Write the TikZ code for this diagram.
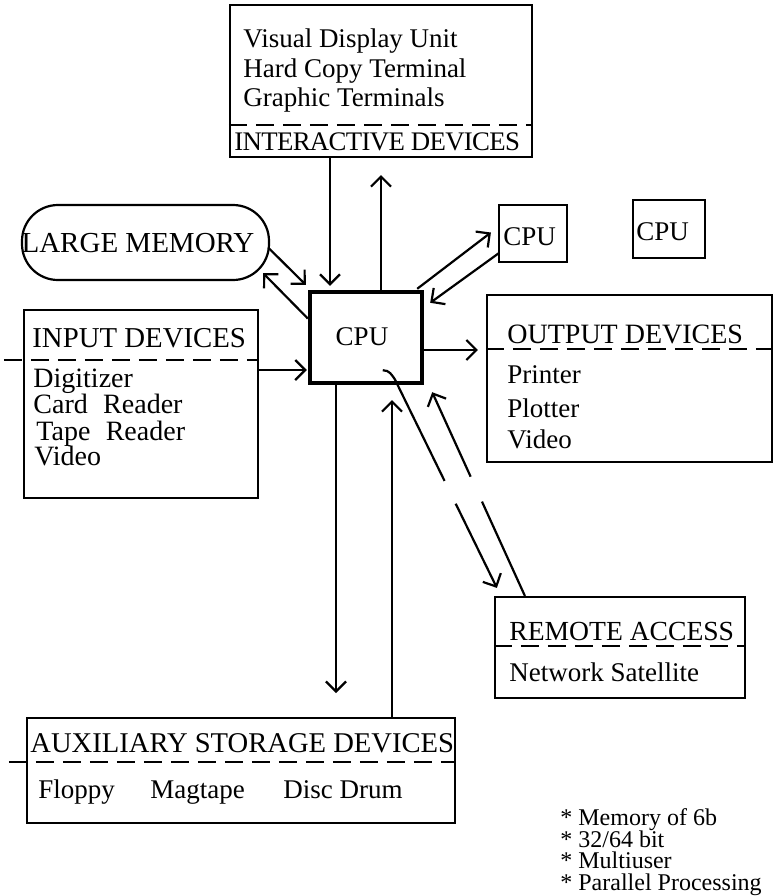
\documentclass[tikz,border=0pt]{standalone}
\usepackage{fontspec}
\setmainfont{Liberation Serif}
\usetikzlibrary{positioning,arrows.meta,calc,fit}

\tikzset{
  devbox/.style={draw,line width=1.1pt,inner sep=0pt},
  cpubox/.style={draw,line width=2.2pt,inner sep=0pt},
  membox/.style={draw,line width=1.1pt,inner sep=0pt,rounded corners=18pt},
  txt/.style={anchor=base west,inner sep=0pt,font=\fontsize{13.5}{15}\selectfont},
  hdr/.style={txt,font=\fontsize{13.8}{15}\selectfont},
  note/.style={anchor=base west,inner sep=0pt,font=\fontsize{12}{12}\selectfont},
  divider/.style={line width=1.1pt,dash pattern=on 9pt off 4.5pt},
  link/.style={line width=1.1pt,-{Straight Barb[length=5pt,width=10pt,line width=1.1pt]}},
}

\begin{document}
\begin{tikzpicture}[x=0.5pt,y=-0.5pt]
  \useasboundingbox (0,0) rectangle (775,896);
  % boxes, corners in pixels of the sheet (y runs down)
  \node[devbox,fit={(230,5) (532,157)}] (inter) {};
  \node[membox,fit={(22,205) (269,280)}] (mem) {};
  \node[devbox,fit={(24,310) (258,498)}] (input) {};
  \node[cpubox,fit={(310,292) (422,383)}] (cpu) {};
  \node[devbox,fit={(499,205) (567,262)}] (cpua) {};
  \node[devbox,fit={(633,200) (705,258)}] (cpub) {};
  \node[devbox,fit={(487,295) (772,462)}] (output) {};
  \node[devbox,fit={(495,597) (745,698)}] (remote) {};
  \node[devbox,fit={(27,718) (455,823)}] (aux) {};

  \draw[divider] ($(inter.north west)+(0,121)$) -- ($(inter.north east)+(0,121)$);
  \draw[divider] ($(input.north west)+(-19,51)$) -- ($(input.north east)+(0,51)$);
  \draw[divider] ($(output.north west)+(0,55)$) -- ($(output.north east)+(0,55)$);
  \draw[divider] ($(remote.north west)+(0,50)$) -- ($(remote.north east)+(0,50)$);
  \draw[divider] ($(aux.north west)+(-17,45)$) -- ($(aux.north east)+(0,45)$);

  \node[txt] (vdu) at (243,47) {Visual Display Unit};
  \node[txt] (hct) at (243,77) {Hard Copy Terminal};
  \node[txt] (gt) at (243,106) {Graphic Terminals};
  \node[hdr,font=\fontsize{13.4}{15}\selectfont\addfontfeatures{LetterSpace=-2.5}] (interhdr) at (234,150) {INTERACTIVE DEVICES};

  \node[hdr,anchor=base,font=\fontsize{14.5}{15}\selectfont] (memtxt) at (138,252) {LARGE MEMORY};

  \node[hdr,font=\fontsize{14.4}{15}\selectfont] (inhdr) at (32,347) {INPUT DEVICES};
  \node[txt,font=\fontsize{14}{15}\selectfont] (dig) at (33,387) {Digitizer};
  \node[txt,font=\fontsize{14}{15}\selectfont] (card) at (33,413) {Card\hspace{0.55em}Reader};
  \node[txt,font=\fontsize{14}{15}\selectfont] (tape) at (36,440) {Tape\hspace{0.55em}Reader};
  \node[txt,font=\fontsize{14}{15}\selectfont] (invid) at (34,465) {Video};

  \node[txt,anchor=base] (cputxt) at (362,345) {CPU};
  \node[txt] (cpuatxt) at (503,245) {CPU};
  \node[txt] (cpubtxt) at (636,240) {CPU};

  \node[hdr,font=\fontsize{14}{15}\selectfont] (outhdr) at (507,343) {OUTPUT DEVICES};
  \node[txt] (prn) at (507,383) {Printer};
  \node[txt] (plt) at (507,417) {Plotter};
  \node[txt] (outvid) at (507,448) {Video};

  \node[hdr] (remhdr) at (509,640) {REMOTE ACCESS};
  \node[txt] (net) at (509,681) {Network Satellite};

  \node[hdr,font=\fontsize{14.3}{15}\selectfont] (auxhdr) at (30,752) {AUXILIARY STORAGE DEVICES};
  \node[txt] (flp) at (38,798) {Floppy};
  \node[txt] (mag) at (150,798) {Magtape};
  \node[txt] (disc) at (283,798) {Disc Drum};

  \node[note] (n1) at (560,825) {* Memory of 6b};
  \node[note] (n2) at (560,847) {* 32/64 bit};
  \node[note] (n3) at (560,868) {* Multiuser};
  \node[note] (n4) at (560,890) {* Parallel Processing};

  % connectors
  \coordinate (dnx) at (330,0);
  \coordinate (upx) at (381,0);
  \coordinate (upend) at (381,175);
  \coordinate (outy) at (0,350);
  \coordinate (iny) at (0,370);
  \coordinate (auxdn) at (336,693);
  \coordinate (auxup) at (392,400);
  \draw[link,shorten >=2pt] (inter.south -| dnx) -- (cpu.north -| dnx);
  \draw[link] (cpu.north -| upx) -- (upend);
  \draw[link] ($(mem.east)+(-2,5)$) -- ($(cpu.north west)+(-2,-5)$);
  \draw[link] ($(cpu.west)+(0,-19)$) -- ($(mem.south east)+(-7,-8)$);
  \draw[link] ($(cpu.north east)+(-7,-1)$) -- ($(cpua.west)+(-7,-1)$);
  \draw[link] ($(cpua.south west)+(1,-10)$) -- ($(cpu.north east)+(6,13)$);
  \draw[link,shorten >=4pt] (cpu.east |- outy) -- (output.west |- outy);
  \draw[link,shorten >=0.5pt] (input.east |- iny) -- (cpu.west |- iny);
  \draw[link] (cpu.south -| auxdn) -- (auxdn);
  \draw[link] (aux.north -| auxup) -- (auxup);
  \draw[link,dash pattern=on 64.5pt off 12.7pt on 200pt]
    ($(cpu.south west)+(75,-15)$) .. controls +(7,0) and +(-3,-4) .. ($(cpu.south west)+(87,-6)$)
    -- ($(remote.north west)+(3,-8)$);
  \draw[link,dash pattern=on 51.8pt off 13.7pt on 200pt]
    ($(remote.north west)+(31,0)$) -- ($(cpu.south east)+(8,7)$);
\end{tikzpicture}
\end{document}
